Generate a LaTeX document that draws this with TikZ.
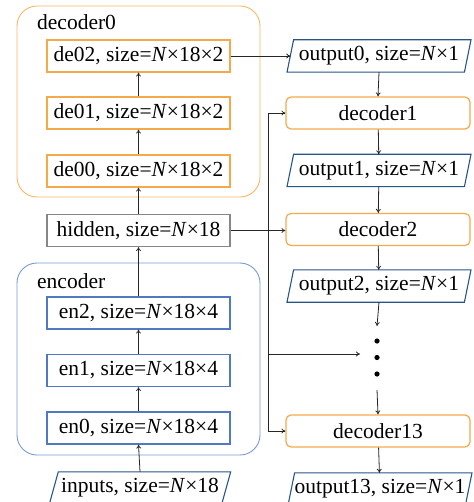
\documentclass[tikz,border=0pt]{standalone}
\usepackage{fontspec}
\setmainfont{Liberation Serif}
\usetikzlibrary{arrows.meta}
\definecolor{orb}{RGB}{244,170,75}
\definecolor{orc}{RGB}{247,182,98}
\definecolor{blb}{RGB}{80,120,195}
\definecolor{blc}{RGB}{120,153,210}
\definecolor{pbl}{RGB}{40,85,135}
\definecolor{grb}{RGB}{135,135,135}
\newcommand\paradraw[2]{\draw[paraline] ([xshift=#2]#1.north west) -- ([xshift=#2]#1.north east) -- ([xshift=-#2]#1.south east) -- ([xshift=-#2]#1.south west) -- cycle;}
\begin{document}
\begin{tikzpicture}[x=1pt,y=-1pt,
 font=\fontsize{21.5}{25}\selectfont,
 box/.style={draw, line width=1.2pt, minimum width=183pt, minimum height=32pt, inner sep=0pt},
 obox/.style={box, draw=orb},
 bbox/.style={box, draw=blb},
 gbox/.style={box, draw=grb},
 rbox/.style={box, draw=orb, minimum width=184pt, rounded corners=5pt},
 para/.style={minimum width=177pt, minimum height=32pt, inner sep=0pt},
 paraline/.style={draw=pbl, line width=1.1pt},
 container/.style={draw, line width=0.9pt, rounded corners=20pt, minimum width=243pt, inner sep=0pt},
 lbl/.style={anchor=west, inner sep=0pt},
 dotnode/.style={circle, fill=black, minimum size=5.2pt, inner sep=0pt},
 arr/.style={-{To[length=4pt,width=5pt]}, line width=0.8pt, black!85},
 ln/.style={line width=0.8pt, black!85}
]
\useasboundingbox (0,0) rectangle (473,502);
% containers
\node[container, draw=orc, minimum height=191pt] (dec0) at (138.5,101.5) {};
\node[lbl] (dec0lbl) at (37,22) {decoder0};
\node[container, draw=blc, minimum height=192pt] (enc) at (138.5,359) {};
\node[lbl] (enclbl) at (37,281) {encoder};
% left column
\node[obox] (de02) at (138.5,56) {de02, size=\textit{N}×18×2};
\node[obox] (de01) at (138.5,113) {de01, size=\textit{N}×18×2};
\node[obox] (de00) at (138.5,171) {de00, size=\textit{N}×18×2};
\node[gbox] (hid) at (138.5,230.5) {hidden, size=\textit{N}×18};
\node[bbox] (en2) at (138.5,313) {en2, size=\textit{N}×18×4};
\node[bbox] (en1) at (138.5,370.5) {en1, size=\textit{N}×18×4};
\node[bbox] (en0) at (138.5,428) {en0, size=\textit{N}×18×4};
\node[para, minimum width=172pt] (inp) at (140,488) {inputs, size=\textit{N}×18};
\paradraw{inp}{4.5pt}
% right column
\node[para] (out0) at (379,56) {output0, size=\textit{N}×1};
\paradraw{out0}{3.3pt}
\node[rbox] (dec1) at (378,113) {decoder1};
\node[para] (out1) at (379,170.5) {output1, size=\textit{N}×1};
\paradraw{out1}{3.3pt}
\node[rbox] (dec2) at (378,229.5) {decoder2};
\node[para] (out2) at (379,286) {output2, size=\textit{N}×1};
\paradraw{out2}{3.3pt}
\node[dotnode] (dot1) at (377,341) {};
\node[dotnode] (dot2) at (377,357.5) {};
\node[dotnode] (dot3) at (377,374) {};
\coordinate (dtop) at (377,326);
\coordinate (dbot) at (377,390);
\node[rbox] (dec13) at (378,431) {decoder13};
\node[para] (out13) at (380,489) {output13, size=\textit{N}×1};
\paradraw{out13}{3.3pt}
% bus
\coordinate (bt) at (268,113);
\coordinate (bd) at (268,354);
\coordinate (bb) at (268,431);
\coordinate (din) at (360,354);
% arrows left
\draw[arr] (inp.north) -- (en0.south);
\draw[arr] (en0) -- (en1);
\draw[arr] (en1) -- (en2);
\draw[arr] (en2) -- (hid);
\draw[arr] (hid) -- (de00);
\draw[arr] (de00) -- (de01);
\draw[arr] (de01) -- (de02);
\draw[arr] (de02.east) -- (out0.west);
% arrows right
\draw[arr] (out0.south) -- (dec1.north);
\draw[arr] (dec1) -- (out1);
\draw[arr] (out1) -- (dec2);
\draw[arr] (dec2) -- (out2);
\draw[arr] (out2.south) -- (dtop);
\draw[arr] (dbot) -- (dec13.north);
\draw[arr] (dec13) -- (out13);
% bus
\draw[arr] (hid.east) -- (hid.east -| dec2.west);
\draw[ln] (bt) -- (bb);
\draw[arr] (bt) -- (dec1.west);
\draw[arr] (bd) -- (din);
\draw[arr] (bb) -- (dec13.west);
\end{tikzpicture}
\end{document}
